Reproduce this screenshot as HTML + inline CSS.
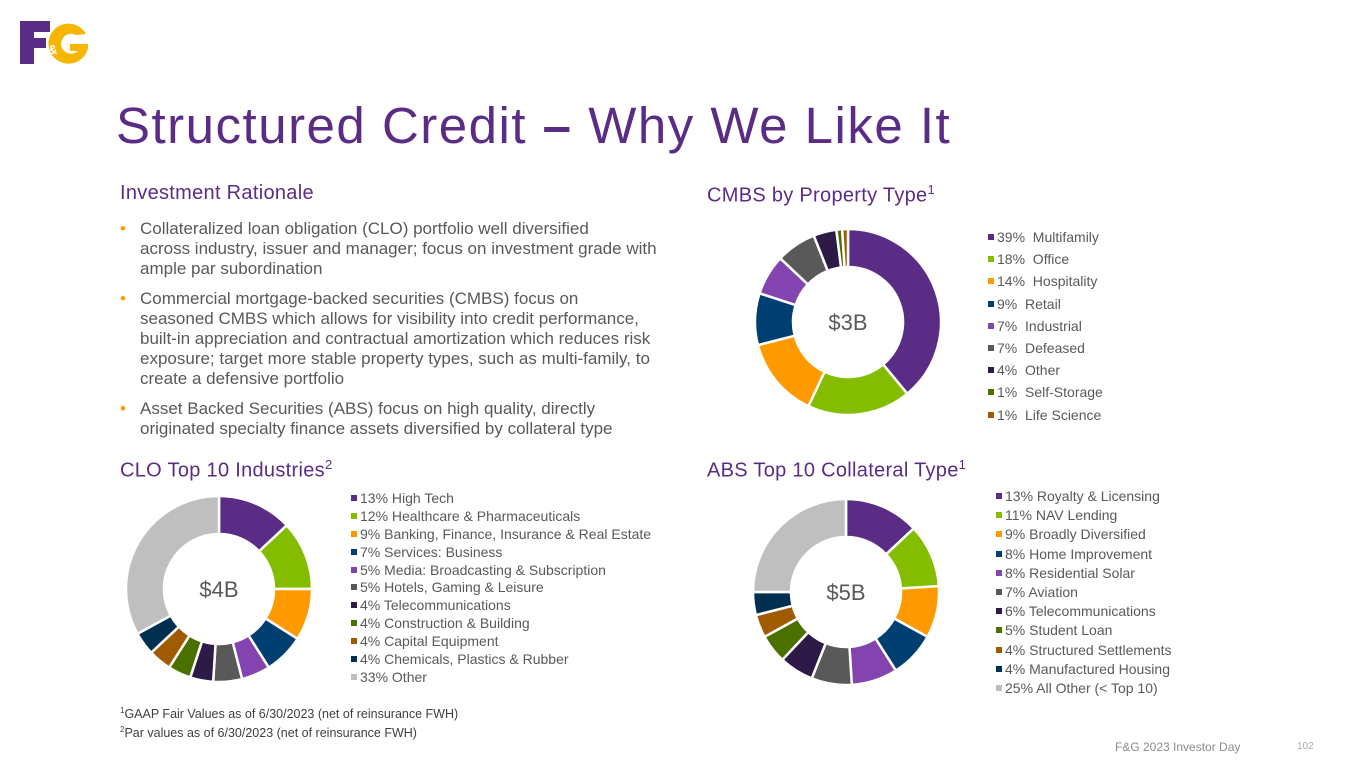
<!DOCTYPE html>
<html><head><meta charset="utf-8">
<style>
body{margin:0;width:1365px;height:768px;background:#fff;font-family:"Liberation Sans",sans-serif;position:relative;overflow:hidden;color:#595959}
.abs{position:absolute}
h1{position:absolute;left:116px;top:96px;margin:0;font-size:51px;font-weight:normal;color:#5B2C86;letter-spacing:1.5px;white-space:nowrap}
.sub{position:absolute;font-size:20px;color:#5B2C86;margin:0;font-weight:normal;letter-spacing:0.3px}
.sub sup{font-size:13px}
ul{position:absolute;left:120px;top:219px;width:600px;margin:0;padding:0;list-style:none;font-size:17px;line-height:20px;color:#595959;white-space:nowrap}
li{position:relative;padding-left:20px;margin-bottom:10px}
li:before{content:"•";position:absolute;left:0;color:#FF9900}
.leg{position:absolute;font-size:14px;color:#595959;white-space:pre}
.leg div{position:relative;padding-left:9px}
.leg div span.sq{position:absolute;left:0;width:6px;height:6px}
.foot{position:absolute;left:120px;top:703px;font-size:12.5px;line-height:16px;color:#404040}
.foot sup{font-size:8px}
</style></head><body>
<svg class="abs" style="left:20px;top:18px" width="72" height="50">
<rect x="0" y="3" width="14" height="43" fill="#5B2C86"/><rect x="0" y="3" width="30" height="11" fill="#5B2C86"/><rect x="0" y="20" width="26" height="10" fill="#5B2C86"/>
<path d="M66 16 A20 20 0 1 0 68 30 L68 26 L50 26 L50 33 L58 33 A10 10 0 1 1 56 17 Z" fill="#F7B500"/>
<text x="28" y="36" font-size="13" fill="#fff" font-family="Liberation Sans" font-weight="bold">&amp;</text>
</svg>
<h1>Structured Credit <b>–</b> Why We Like It</h1>
<h2 class="sub" style="left:120px;top:182px">Investment Rationale</h2>
<ul>
<li>Collateralized loan obligation (CLO) portfolio well diversified<br>across industry, issuer and manager; focus on investment grade with<br>ample par subordination</li>
<li>Commercial mortgage-backed securities (CMBS) focus on<br>seasoned CMBS which allows for visibility into credit performance,<br>built-in appreciation and contractual amortization which reduces risk<br>exposure; target more stable property types, such as multi-family, to<br>create a defensive portfolio</li>
<li>Asset Backed Securities (ABS) focus on high quality, directly<br>originated specialty finance assets diversified by collateral type</li>
</ul>
<h2 class="sub" style="left:707px;top:182px">CMBS by Property Type<sup>1</sup></h2>
<h2 class="sub" style="left:120px;top:457px">CLO Top 10 Industries<sup>2</sup></h2>
<h2 class="sub" style="left:707px;top:457px">ABS Top 10 Collateral Type<sup>1</sup></h2>
<svg id="charts" class="abs" style="left:0;top:0" width="1365" height="768"></svg>
<div class="foot"><sup>1</sup>GAAP Fair Values as of 6/30/2023 (net of reinsurance FWH)<br><sup>2</sup>Par values as of 6/30/2023 (net of reinsurance FWH)</div>
<div class="abs" style="left:1115px;top:740px;font-size:12px;color:#8c8c8c">F&amp;G 2023 Investor Day</div>
<div class="abs" style="left:1297px;top:741px;font-size:10px;color:#aaa">102</div>
<script>
const cmbsLabels=["39%  Multifamily","18%  Office","14%  Hospitality","9%  Retail","7%  Industrial","7%  Defeased","4%  Other","1%  Self-Storage","1%  Life Science"];
const cmbsValues=[39,18,14,9,7,7,4,1,1];
const cloLabels=["13% High Tech","12% Healthcare & Pharmaceuticals","9% Banking, Finance, Insurance & Real Estate","7% Services: Business","5% Media: Broadcasting & Subscription","5% Hotels, Gaming & Leisure","4% Telecommunications","4% Construction & Building","4% Capital Equipment","4% Chemicals, Plastics & Rubber","33% Other"];
const cloValues=[13,12,9,7,5,5,4,4,4,4,33];
const absLabels=["13% Royalty & Licensing","11% NAV Lending","9% Broadly Diversified","8% Home Improvement","8% Residential Solar","7% Aviation","6% Telecommunications","5% Student Loan","4% Structured Settlements","4% Manufactured Housing","25% All Other (< Top 10)"];
const absValues=[13,11,9,8,8,7,6,5,4,4,25];
const colors=["#5B2C86","#84BD00","#FF9900","#003F72","#8444B0","#595959","#2E1A47","#4A7000","#A05A00","#00304F","#BFBFBF"];
const svg=document.getElementById('charts');
const NS="http://www.w3.org/2000/svg";
function donut(name,cx,cy,vals,center){
  const tot=vals.reduce((a,b)=>a+b,0);const R=93,r=55;let a0=-Math.PI/2;
  vals.forEach((v,i)=>{
    const a1=a0+v/tot*2*Math.PI;const lg=(a1-a0)>Math.PI?1:0;
    const p=`M${cx+R*Math.cos(a0)} ${cy+R*Math.sin(a0)} A${R} ${R} 0 ${lg} 1 ${cx+R*Math.cos(a1)} ${cy+R*Math.sin(a1)} L${cx+r*Math.cos(a1)} ${cy+r*Math.sin(a1)} A${r} ${r} 0 ${lg} 0 ${cx+r*Math.cos(a0)} ${cy+r*Math.sin(a0)}Z`;
    const el=document.createElementNS(NS,'path');el.setAttribute('d',p);el.setAttribute('fill',colors[i]);el.setAttribute('stroke','#fff');el.setAttribute('stroke-width','2.5');
    
    
    svg.appendChild(el);a0=a1;
  });
  const t=document.createElementNS(NS,'text');t.setAttribute('x',cx);t.setAttribute('y',cy+8);t.setAttribute('text-anchor','middle');t.setAttribute('font-size','22');t.setAttribute('fill','#595959');t.setAttribute('font-family','Liberation Sans');t.textContent=center;
  
  
  svg.appendChild(t);
}
function legend(name,x,y,gap,labels){
  const d=document.createElement('div');d.className='leg';d.style.left=x+'px';d.style.top=y+'px';
  
  
  labels.forEach((l,i)=>{const e=document.createElement('div');e.style.height=gap+'px';e.style.lineHeight='16px';
    
    
    const s=document.createElement('span');s.className='sq';s.style.background=colors[i];s.style.top='5px';e.appendChild(s);e.appendChild(document.createTextNode(l));d.appendChild(e);});
  document.body.appendChild(d);
}
donut('cmbs',848,322,cmbsValues,'$3B');
donut('clo',219,589,cloValues,'$4B');
donut('abs',846,592,absValues,'$5B');
legend('cmbs',988,229,22.2,cmbsLabels);
legend('clo',351,490,17.9,cloLabels);
legend('abs',996,488,19.2,absLabels);
</script>
</body></html>
